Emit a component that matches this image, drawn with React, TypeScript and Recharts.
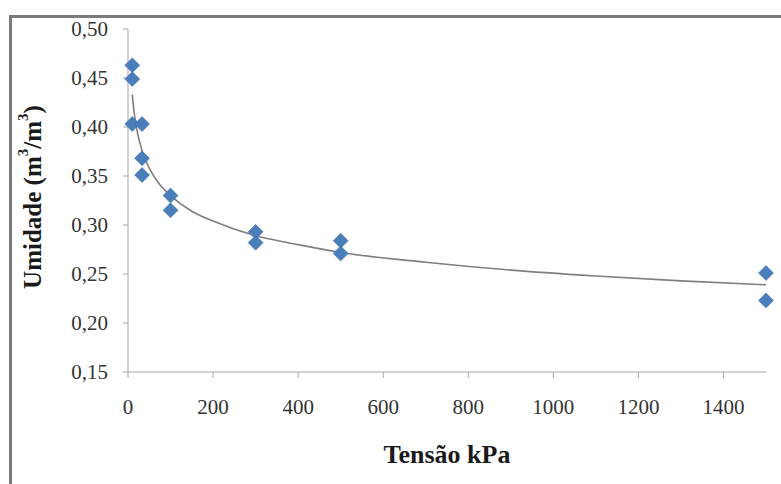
import { ComposedChart, Scatter, Line, XAxis, YAxis, Label } from "recharts";

// measured points (tension kPa, moisture m3/m3)
const tensao = [10, 10, 10, 33, 33, 33, 100, 100, 300, 300, 500, 500, 1500, 1500];
const umidade = [0.463, 0.449, 0.403, 0.403, 0.368, 0.351, 0.33, 0.315, 0.293, 0.282, 0.284, 0.271, 0.251, 0.223];

// trend curve
const trendX = [10, 15, 20, 35, 50, 75, 100, 150, 200, 300, 400, 500, 700, 900, 1100, 1300, 1500];
const trendY = [0.433, 0.413, 0.399, 0.373, 0.358, 0.341, 0.33, 0.314, 0.304, 0.289, 0.28, 0.272, 0.262, 0.254, 0.248, 0.243, 0.239];

const xTicks = [0, 200, 400, 600, 800, 1000, 1200, 1400];
const yTicks = [0.15, 0.2, 0.25, 0.3, 0.35, 0.4, 0.45, 0.5];

const points = tensao.map((x, i) => ({ x, y: umidade[i] }));
const trend = trendX.map((x, i) => ({ x, y: trendY[i] }));

const BLUE = "#4a7ebb";
const FONT = "Liberation Serif, Times New Roman, serif";

const Diamond = (props: any) => {
  const { cx, cy } = props;
  const r = 7.5;
  return (
    <polygon
      points={`${cx},${cy - r} ${cx + r},${cy} ${cx},${cy + r} ${cx - r},${cy}`}
      fill={BLUE}
      stroke="#3d6ca6"
      strokeWidth={0.5}
    />
  );
};

const YTitle = () => (
  <text
    x={32}
    y={197}
    transform="rotate(-90 32 197)"
    textAnchor="middle"
    dominantBaseline="central"
    style={{ fontFamily: FONT, fontWeight: "bold", fontSize: 25 }}
    fill="#1a1a1a"
  >
    Umidade (m<tspan dy={-9} style={{ fontSize: 15 }}>3</tspan>
    <tspan dy={9}>/m</tspan>
    <tspan dy={-9} style={{ fontSize: 15 }}>3</tspan>
    <tspan dy={9}>)</tspan>
  </text>
);

const tickStyle = { fontFamily: FONT, fontSize: 21, fill: "#333" };

export default function App() {
  return (
    <div style={{ position: "absolute", left: 0, top: 0, width: 781, height: 484, background: "#fff" }}>
      <div
        style={{
          position: "absolute",
          left: 9,
          top: 15,
          width: 772,
          height: 469,
          borderTop: "3px solid #7a7a7a",
          borderLeft: "3px solid #7a7a7a",
          boxSizing: "border-box",
        }}
      />
      <div style={{ position: "absolute", left: 0, top: 0 }}>
        <ComposedChart width={781} height={484} margin={{ top: 29, right: 15, bottom: 0, left: 0 }}>
          <XAxis
            type="number"
            dataKey="x"
            domain={[0, 1500]}
            ticks={xTicks}
            height={112}
            tickSize={6}
            tickMargin={21}
            stroke="#a6a6a6"
            tick={tickStyle}
          >
            <Label
              value="Tensão kPa"
              position="insideBottom"
              offset={21}
              fontFamily={FONT}
              style={{ fontFamily: FONT, fontWeight: "bold", fontSize: 26, fill: "#1a1a1a" }}
            />
          </XAxis>
          <YAxis
            type="number"
            dataKey="y"
            domain={[0.15, 0.5]}
            ticks={yTicks}
            width={128}
            tickSize={5}
            tickMargin={15}
            stroke="#a6a6a6"
            tick={tickStyle}
            tickFormatter={(v: number) => v.toFixed(2).replace(".", ",")}
          >
            <Label content={<YTitle />} />
          </YAxis>
          <Line
            data={trend}
            dataKey="y"
            type="monotone"
            stroke="#7f7f7f"
            strokeWidth={1.6}
            dot={false}
            activeDot={false}
            isAnimationActive={false}
          />
          <Scatter data={points} dataKey="y" shape={<Diamond />} isAnimationActive={false} />
        </ComposedChart>
      </div>
    </div>
  );
}
